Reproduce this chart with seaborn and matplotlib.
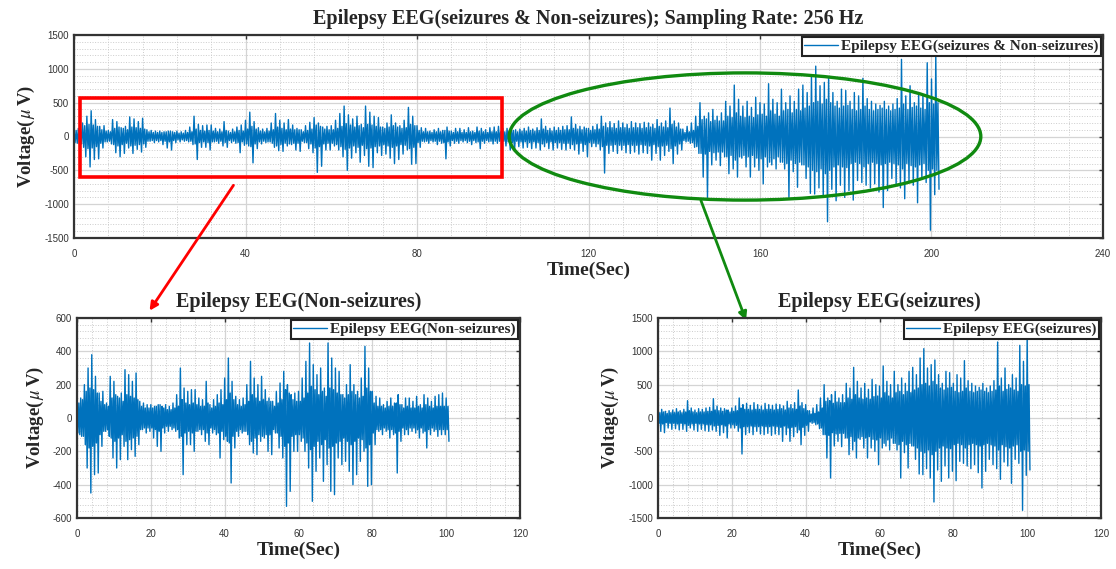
# EEG recording split into non-seizure / seizure parts (MATLAB style figure)
import numpy as np
import matplotlib
matplotlib.use('Agg')
import matplotlib.pyplot as plt
import seaborn as sns
from matplotlib.patches import Rectangle, Ellipse
from matplotlib.ticker import MultipleLocator, AutoMinorLocator

# per-second maximum / minimum voltage (uV), 0..100 s
non_seizure_hi = [100, 120, 200, 300, 380, 250, 150, 160, 90, 250,
                  220, 130, 150, 290, 260, 220, 270, 100, 90, 80,
                  80, 70, 80, 70, 80, 70, 90, 140, 300, 180,
                  160, 170, 170, 120, 110, 220, 80, 110, 140, 170,
                  240, 360, 220, 130, 110, 120, 200, 340, 240, 200,
                  250, 170, 120, 100, 160, 210, 280, 200, 140, 150,
                  160, 240, 340, 450, 320, 260, 300, 180, 450, 360,
                  300, 280, 140, 200, 320, 200, 160, 240, 430, 300,
                  160, 130, 120, 80, 100, 120, 90, 140, 80, 120,
                  120, 100, 130, 80, 140, 120, 100, 130, 140, 150,
                  120]
non_seizure_lo = [-100, -110, -300, -450, -340, -330, -170, -80, -110, -240,
                  -300, -250, -170, -250, -190, -230, -160, -70, -90, -80,
                  -120, -170, -200, -90, -80, -70, -80, -120, -340, -160,
                  -160, -200, -80, -100, -140, -160, -90, -100, -240, -130,
                  -140, -390, -180, -110, -90, -80, -160, -210, -220, -140,
                  -120, -200, -220, -90, -180, -240, -530, -440, -200, -200,
                  -140, -200, -300, -500, -320, -240, -380, -280, -440, -460,
                  -240, -280, -260, -320, -400, -340, -260, -200, -410, -400,
                  -160, -80, -100, -80, -120, -100, -330, -140, -100, -100,
                  -80, -90, -120, -90, -180, -100, -80, -110, -100, -100,
                  -140]
# amplitude of the dense background band, per second
non_seizure_core = [90, 110, 160, 180, 170, 150, 100, 80, 70, 120,
                    140, 120, 100, 140, 130, 120, 110, 70, 60, 60,
                    60, 70, 80, 60, 50, 50, 60, 70, 110, 90,
                    80, 90, 80, 70, 70, 90, 60, 70, 90, 80,
                    110, 150, 110, 80, 70, 80, 100, 140, 120, 100,
                    110, 100, 100, 70, 90, 110, 170, 150, 110, 100,
                    100, 120, 150, 190, 170, 140, 160, 130, 180, 170,
                    150, 140, 120, 140, 160, 140, 120, 130, 180, 160,
                    90, 70, 70, 60, 70, 70, 90, 80, 60, 70,
                    60, 60, 70, 60, 80, 70, 60, 70, 70, 70,
                    70]

seizure_hi = [120, 130, 100, 110, 120, 140, 110, 130, 260, 150,
              120, 140, 130, 150, 160, 290, 180, 150, 140, 120,
              150, 180, 300, 200, 220, 190, 230, 200, 180, 220,
              200, 190, 210, 200, 180, 250, 200, 230, 420, 230,
              200, 110, 150, 200, 300, 500, 300, 350, 400, 300,
              350, 520, 450, 760, 550, 450, 520, 430, 580, 500,
              480, 780, 550, 500, 700, 500, 600, 520, 700, 760,
              650, 900, 1040, 750, 800, 870, 650, 520, 700, 680,
              520, 650, 600, 860, 560, 520, 480, 460, 520, 450,
              480, 560, 1140, 600, 750, 500, 650, 600, 1090, 850,
              1215]
seizure_lo = [-200, -220, -150, -170, -160, -180, -170, -200, -150, -180,
              -200, -170, -190, -200, -180, -200, -260, -220, -300, -150,
              -150, -200, -540, -250, -220, -250, -200, -240, -250, -230,
              -260, -240, -250, -350, -250, -350, -280, -220, -400, -260,
              -200, -80, -100, -160, -250, -600, -900, -420, -350, -430,
              -300, -550, -480, -600, -320, -450, -600, -450, -500, -700,
              -450, -420, -480, -380, -480, -900, -520, -750, -420, -620,
              -840, -850, -760, -900, -1260, -780, -950, -720, -900, -800,
              -940, -650, -680, -720, -760, -700, -820, -1050, -800, -620,
              -700, -760, -920, -660, -720, -980, -620, -680, -1385, -860,
              -780]
seizure_core = [80, 90, 70, 80, 80, 90, 80, 90, 110, 90,
                80, 90, 90, 100, 100, 120, 110, 100, 120, 90,
                100, 110, 150, 130, 130, 120, 130, 130, 120, 130,
                130, 120, 130, 140, 120, 150, 140, 130, 180, 140,
                110, 60, 70, 90, 150, 250, 260, 220, 240, 230,
                230, 300, 280, 350, 300, 280, 300, 280, 320, 330,
                300, 380, 330, 300, 380, 400, 350, 400, 380, 420,
                450, 500, 520, 480, 550, 500, 450, 420, 450, 460,
                400, 380, 400, 450, 400, 380, 400, 420, 400, 380,
                400, 420, 480, 400, 430, 450, 420, 400, 500, 480,
                500]

blue = '#0072BD'
serif = 'Liberation Serif'


def to_trace(hi, lo, core, start=0.0):
    """Four samples per second: peak, band low, band high, trough."""
    core = np.asarray(core)
    sec = np.arange(len(hi)) + start
    t = np.column_stack([sec, sec + 0.25, sec + 0.5, sec + 0.75]).ravel()
    v = np.column_stack([hi, -core, core, lo]).ravel()
    return t, v


def style_axes(ax, xmax, xstep, ylim, ystep, title, legend_label):
    ax.set_xlim(0, xmax)
    ax.set_ylim(-ylim, ylim)
    ax.xaxis.set_major_locator(MultipleLocator(xstep))
    ax.yaxis.set_major_locator(MultipleLocator(ystep))
    ax.xaxis.set_minor_locator(AutoMinorLocator(5))
    ax.yaxis.set_minor_locator(AutoMinorLocator(5))
    ax.grid(which='major', color='#d4d4d4', lw=0.9, ls='-')
    ax.grid(which='minor', color='#cccccc', lw=0.7, ls=':')
    ax.set_axisbelow(True)
    ax.tick_params(which='both', direction='in', top=True, right=True,
                   labelsize=7, labelcolor='#333333', color='#333333')
    ax.tick_params(which='major', length=3, width=1)
    ax.tick_params(axis='x', which='major', pad=8)
    ax.tick_params(which='minor', length=0)
    for sp in ax.spines.values():
        sp.set_color('#333333')
        sp.set_linewidth(1.6)
    ax.set_title(title, family=serif, weight='bold', fontsize=14.5, pad=8)
    ax.set_xlabel('Time(Sec)', family=serif, weight='bold', fontsize=14,
                  labelpad=2)
    ax.set_ylabel(r'Voltage($\,\mu\,$V)', family=serif, weight='bold',
                  fontsize=13.5, labelpad=5)
    leg = ax.legend([legend_label], loc='upper right', frameon=True,
                    fancybox=False, edgecolor='#222222', framealpha=1,
                    prop=dict(family=serif, weight='bold', size=11),
                    borderpad=0.15, handlelength=2.2, handletextpad=0.2,
                    borderaxespad=0.15)
    leg.get_frame().set_linewidth(1.5)
    for tl in ax.get_xticklabels() + ax.get_yticklabels():
        tl.set_family('Liberation Sans')


sns.set_style('white')
plt.rcParams['mathtext.fontset'] = 'stix'
plt.rcParams['axes.unicode_minus'] = False

fig = plt.figure(figsize=(11.16, 5.69), dpi=100)
W, H = 1116, 569


def px_axes(x0, y0, x1, y1):
    return fig.add_axes([x0 / W, 1 - y1 / H, (x1 - x0) / W, (y1 - y0) / H])


ax_top = px_axes(74, 35, 1103, 238)
ax_bl = px_axes(77, 318, 520, 518)
ax_br = px_axes(658, 318, 1101, 518)

t_non, v_non = to_trace(non_seizure_hi, non_seizure_lo, non_seizure_core)
t_sz, v_sz = to_trace(seizure_hi, seizure_lo, seizure_core)
t_sz_full, _ = to_trace(seizure_hi, seizure_lo, seizure_core,
                        start=len(non_seizure_hi))

t_all = np.concatenate([t_non, t_sz_full])
v_all = np.concatenate([v_non, v_sz])

sns.lineplot(x=t_all, y=v_all, ax=ax_top, color=blue, lw=1.0,
             estimator=None, sort=False)
sns.lineplot(x=t_non, y=v_non, ax=ax_bl, color=blue, lw=1.0,
             estimator=None, sort=False)
sns.lineplot(x=t_sz, y=v_sz, ax=ax_br, color=blue, lw=1.0,
             estimator=None, sort=False)

style_axes(ax_top, 240, 40, 1500, 500,
           'Epilepsy EEG(seizures & Non-seizures); Sampling Rate: 256 Hz',
           'Epilepsy EEG(seizures & Non-seizures)')
style_axes(ax_bl, 120, 20, 600, 200, 'Epilepsy EEG(Non-seizures)',
           'Epilepsy EEG(Non-seizures)')
style_axes(ax_br, 120, 20, 1500, 500, 'Epilepsy EEG(seizures)',
           'Epilepsy EEG(seizures)')

# highlight boxes on the full recording
ax_top.add_patch(Rectangle((1.4, -600), 98.4, 1170, fill=False,
                           ec='#ff0000', lw=2.6, zorder=5))
ax_top.add_patch(Ellipse((156.5, 0), 110, 1880, fill=False,
                         ec='#108a10', lw=2.4, zorder=5, clip_on=False))

# arrows pointing to the zoomed panels
ax_top.annotate('', xy=(148 / W, 1 - 313 / H), xycoords='figure fraction',
                xytext=(235 / W, 1 - 183 / H), textcoords='figure fraction',
                arrowprops=dict(arrowstyle='-|>', color='#ff0000', lw=2,
                                mutation_scale=12), annotation_clip=False)
ax_top.annotate('', xy=(747 / W, 1 - 323 / H), xycoords='figure fraction',
                xytext=(700 / W, 1 - 198 / H), textcoords='figure fraction',
                arrowprops=dict(arrowstyle='-|>', color='#108a10', lw=2,
                                mutation_scale=12), annotation_clip=False)

fig.savefig('out.png', dpi=100)
